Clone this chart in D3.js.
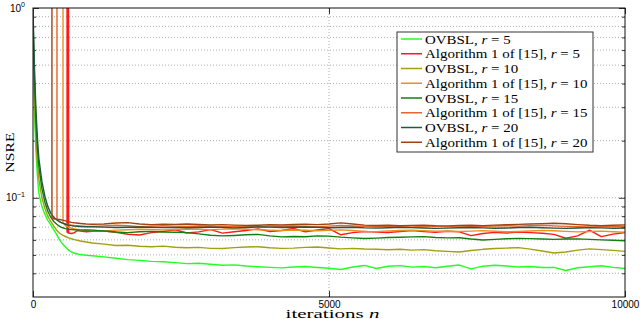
<!DOCTYPE html>
<html>
<head>
<meta charset="utf-8">
<style>
body { margin: 0; background: #fff; }
svg { display: block; }
.axis text { font-family: "Liberation Sans", Arial, sans-serif; font-size: 10px; fill: #000; }
.axis line { stroke: #000; stroke-width: 0.8; }
.axis .domain { display: none; }
.grid line { stroke: #9a9a9a; stroke-width: 0.8; stroke-dasharray: 1,2; }
.serif { font-family: "Liberation Serif", "Times New Roman", serif; fill: #000; }
</style>
</head>
<body>
<svg id="chart" width="640" height="319"></svg>
<script src="https://d3js.org/d3.v7.min.js"></script>
<script>

// legend labels (method, r) and line colours
var methods = ["OVBSL", "Algorithm 1 of [15]", "OVBSL", "Algorithm 1 of [15]",
               "OVBSL", "Algorithm 1 of [15]", "OVBSL", "Algorithm 1 of [15]"];
var ranks = [5, 5, 10, 10, 15, 15, 20, 20];
var colors = ["#22ff22", "#ff1a1a", "#a3a00e", "#eb8f1f",
              "#118011", "#e5652c", "#22593f", "#a3420f"];

// early part (n < 1000) as [n, NSRE]; values of 2 are off the top of the chart
var ovbsl5Head = [[0,1],[10,0.45],[25,0.28],[50,0.175],[75,0.13],[100,0.105],[150,0.090],[200,0.082],[250,0.076],[300,0.072],[350,0.068],[400,0.064],[450,0.060],[500,0.057],[550,0.055],[600,0.053],[650,0.0518],[700,0.0510],[800,0.0502],[900,0.0498]];
var alg5Head = [[575,2],[575,0.066],[588,0.0655],[590,2],[600,2],[602,0.0652],[650,0.0648],[700,0.0655],[750,0.0672],[800,0.0668],[900,0.0662]];
var ovbsl10Head = [[0,1],[10,0.55],[25,0.34],[50,0.20],[75,0.15],[100,0.125],[150,0.100],[200,0.088],[250,0.080],[300,0.075],[350,0.071],[400,0.0675],[450,0.065],[500,0.0635],[550,0.0625],[600,0.0615],[650,0.0608],[700,0.0602],[800,0.0592],[900,0.0585]];
var alg10Head = [[507,2],[507,0.074],[550,0.0712],[600,0.0700],[650,0.0692],[700,0.0686],[800,0.0679],[900,0.0674]];
var ovbsl15Head = [[0,1],[10,0.65],[25,0.42],[50,0.25],[75,0.18],[100,0.145],[150,0.112],[200,0.095],[250,0.085],[300,0.079],[350,0.075],[400,0.0725],[450,0.0707],[500,0.0695],[550,0.0688],[600,0.0683],[650,0.0680],[700,0.0678],[800,0.0675],[900,0.0676]];
var alg15Head = [[405,2],[405,0.077],[450,0.0745],[500,0.0735],[550,0.0728],[600,0.0722],[650,0.0718],[700,0.0714],[800,0.0710],[900,0.0707]];
var ovbsl20Head = [[0,1],[10,0.72],[25,0.48],[50,0.29],[75,0.205],[100,0.16],[150,0.122],[200,0.102],[250,0.090],[300,0.083],[350,0.079],[400,0.0765],[450,0.0748],[500,0.0735],[550,0.0725],[600,0.0718],[650,0.0713],[700,0.0709],[800,0.0705],[900,0.0704]];
var alg20Head = [[320,2],[320,0.079],[350,0.0775],[400,0.0770],[450,0.0768],[500,0.0762],[550,0.0755],[600,0.0748],[650,0.0742],[700,0.0738],[800,0.0732],[900,0.0727]];

// plateau, n = 1000, 1200, ..., 10000
var iters = d3.range(1000, 10001, 200);
var ovbsl5 = [0.0495,0.0488,0.0480,0.0472,0.0468,0.0462,0.0460,0.0455,0.0450,0.0452,0.0446,0.0441,0.0443,0.0437,0.0433,0.0430,0.0427,0.0432,0.0434,0.0429,0.0425,0.0419,0.0432,0.0440,0.0424,0.0436,0.0439,0.0431,0.0434,0.0428,0.0436,0.0442,0.0422,0.0436,0.0441,0.0437,0.0432,0.0434,0.0429,0.0430,0.0414,0.0428,0.0433,0.0438,0.0430,0.0424];
var alg5 = [0.0665,0.0668,0.0658,0.0642,0.0637,0.0655,0.0664,0.0678,0.0652,0.0661,0.0679,0.0651,0.0662,0.0672,0.0686,0.0664,0.0672,0.0689,0.0661,0.0676,0.0688,0.0638,0.0655,0.0664,0.0659,0.0656,0.0664,0.0671,0.0663,0.0657,0.0666,0.0661,0.0632,0.0648,0.0657,0.0652,0.0660,0.0655,0.0650,0.0641,0.0612,0.0630,0.0676,0.0624,0.0643,0.0656];
var ovbsl10 = [0.0578,0.0570,0.0560,0.0562,0.0555,0.0552,0.0556,0.0549,0.0545,0.0548,0.0541,0.0540,0.0546,0.0550,0.0552,0.0545,0.0541,0.0543,0.0548,0.0550,0.0544,0.0538,0.0541,0.0537,0.0535,0.0532,0.0535,0.0530,0.0533,0.0526,0.0522,0.0518,0.0527,0.0535,0.0540,0.0543,0.0546,0.0536,0.0524,0.0512,0.0518,0.0530,0.0538,0.0533,0.0528,0.0522];
var alg10 = [0.0672,0.0668,0.0675,0.0679,0.0683,0.0680,0.0676,0.0681,0.0685,0.0682,0.0678,0.0684,0.0687,0.0683,0.0679,0.0675,0.0672,0.0676,0.0674,0.0670,0.0673,0.0677,0.0672,0.0665,0.0663,0.0668,0.0672,0.0675,0.0671,0.0666,0.0668,0.0664,0.0667,0.0671,0.0666,0.0662,0.0664,0.0668,0.0673,0.0670,0.0665,0.0661,0.0664,0.0667,0.0662,0.0659];
var ovbsl15 = [0.0675,0.0668,0.0660,0.0655,0.0662,0.0665,0.0660,0.0658,0.0655,0.0645,0.0635,0.0630,0.0633,0.0638,0.0641,0.0630,0.0622,0.0625,0.0623,0.0630,0.0628,0.0620,0.0615,0.0610,0.0613,0.0617,0.0619,0.0622,0.0624,0.0618,0.0615,0.0616,0.0606,0.0599,0.0604,0.0608,0.0611,0.0609,0.0606,0.0604,0.0606,0.0607,0.0604,0.0600,0.0597,0.0594];
var alg15 = [0.0707,0.0711,0.0716,0.0712,0.0705,0.0708,0.0712,0.0709,0.0706,0.0710,0.0707,0.0703,0.0706,0.0709,0.0705,0.0702,0.0706,0.0710,0.0708,0.0705,0.0709,0.0714,0.0710,0.0706,0.0703,0.0707,0.0705,0.0702,0.0706,0.0709,0.0705,0.0701,0.0704,0.0707,0.0710,0.0712,0.0709,0.0713,0.0716,0.0711,0.0707,0.0704,0.0701,0.0705,0.0709,0.0706];
var ovbsl20 = [0.0703,0.0700,0.0697,0.0699,0.0702,0.0698,0.0696,0.0698,0.0695,0.0697,0.0700,0.0698,0.0694,0.0697,0.0702,0.0700,0.0697,0.0699,0.0701,0.0698,0.0695,0.0697,0.0699,0.0694,0.0692,0.0695,0.0698,0.0696,0.0693,0.0690,0.0692,0.0695,0.0697,0.0694,0.0691,0.0693,0.0697,0.0699,0.0695,0.0692,0.0690,0.0693,0.0696,0.0694,0.0691,0.0693];
var alg20 = [0.0725,0.0728,0.0736,0.0740,0.0727,0.0722,0.0726,0.0724,0.0727,0.0723,0.0719,0.0722,0.0718,0.0715,0.0717,0.0721,0.0719,0.0723,0.0726,0.0722,0.0728,0.0737,0.0728,0.0718,0.0714,0.0716,0.0712,0.0715,0.0718,0.0713,0.0711,0.0714,0.0716,0.0713,0.0718,0.0721,0.0724,0.0727,0.0731,0.0734,0.0730,0.0722,0.0716,0.0713,0.0716,0.0720];

var heads = [ovbsl5Head, alg5Head, ovbsl10Head, alg10Head, ovbsl15Head, alg15Head, ovbsl20Head, alg20Head];
var tails = [ovbsl5, alg5, ovbsl10, alg10, ovbsl15, alg15, ovbsl20, alg20];

var xTicks = [0, 5000, 10000];
var yMajor = [0.1, 1];
var yMinor = [0.04, 0.05, 0.06, 0.07, 0.08, 0.09, 0.2, 0.3, 0.4, 0.5, 0.6, 0.7, 0.8, 0.9];

var svg = d3.select("#chart"),
    margin = {top: 8, right: 15, bottom: 22, left: 33},
    width = +svg.attr("width") - margin.left - margin.right,
    height = +svg.attr("height") - margin.top - margin.bottom,
    g = svg.append("g").attr("transform", "translate(" + margin.left + "," + margin.top + ")");

var x = d3.scaleLinear().domain([0, 10000]).range([0, width]);
var y = d3.scaleLog().domain([0.03, 1]).range([height, 0]);

svg.append("defs").append("clipPath").attr("id", "plotclip")
  .append("rect").attr("width", width).attr("height", height);

// dotted grid
g.append("g").attr("class", "grid")
  .selectAll("line").data(yMinor.concat([0.1])).enter().append("line")
    .attr("x1", 0).attr("x2", width)
    .attr("y1", function(d) { return y(d); }).attr("y2", function(d) { return y(d); });
g.append("g").attr("class", "grid")
  .selectAll("line").data([5000]).enter().append("line")
    .attr("y1", 0).attr("y2", height)
    .attr("x1", function(d) { return x(d); }).attr("x2", function(d) { return x(d); });

// inward ticks on all four sides
g.append("g").attr("class", "axis").call(d3.axisLeft(y).tickValues(yMinor).tickSize(-3).tickFormat(""));
g.append("g").attr("class", "axis").call(d3.axisLeft(y).tickValues(yMajor).tickSize(-6).tickFormat(""));
g.append("g").attr("class", "axis").attr("transform", "translate(" + width + ",0)")
  .call(d3.axisRight(y).tickValues(yMinor).tickSize(-3).tickFormat(""));
g.append("g").attr("class", "axis").attr("transform", "translate(" + width + ",0)")
  .call(d3.axisRight(y).tickValues(yMajor).tickSize(-6).tickFormat(""));
g.append("g").attr("class", "axis").attr("transform", "translate(0," + height + ")")
  .call(d3.axisBottom(x).tickValues(xTicks).tickSize(-6).tickPadding(4).tickFormat(d3.format("d")));
g.append("g").attr("class", "axis")
  .call(d3.axisTop(x).tickValues(xTicks).tickSize(-6).tickFormat(""));

// 10^k labels
var ylab = g.append("g").attr("class", "axis")
  .selectAll("text").data(yMajor).enter().append("text")
    .attr("x", -8)
    .attr("y", function(d) { return y(d) + 3.5; })
    .attr("text-anchor", "end");
ylab.append("tspan").text("10");
ylab.append("tspan").attr("dy", -4.5).style("font-size", "7px")
  .text(function(d) { return Math.round(Math.log10(d)) === 0 ? "0" : "\u22121"; });

// curves
var line = d3.line()
  .x(function(d) { return x(d[0]); })
  .y(function(d) { return y(d[1]); });

var curves = heads.map(function(h, i) {
  return h.concat(iters.map(function(n, j) { return [n, tails[i][j]]; }));
});

g.append("g").attr("clip-path", "url(#plotclip)")
  .selectAll("path").data(curves).enter().append("path")
    .attr("d", line)
    .attr("fill", "none")
    .attr("stroke", function(d, i) { return colors[i]; })
    .attr("stroke-width", 1.4)
    .attr("stroke-linejoin", "round");

// frame
g.append("rect").attr("width", width).attr("height", height)
  .attr("fill", "none").attr("stroke", "#111").attr("stroke-width", 1);

// axis titles (the original figure is stretched sideways, so the text is too)
svg.append("text").attr("class", "serif")
  .attr("transform", "translate(13.5," + (margin.top + height / 2) + ") rotate(-90) scale(1.25,1)")
  .attr("text-anchor", "middle").style("font-size", "12.5px")
  .text("NSRE");

var xt = svg.append("text").attr("class", "serif")
  .attr("transform", "translate(332.5,318) scale(1.75,1)")
  .attr("text-anchor", "middle").style("font-size", "12px");
xt.append("tspan").text("iterations ");
xt.append("tspan").style("font-style", "italic").text("n");

// legend
var legend = svg.append("g").attr("transform", "translate(397,32)");
legend.append("rect").attr("width", 196).attr("height", 120)
  .attr("fill", "#fff").attr("stroke", "#333").attr("stroke-width", 1);

var row = legend.selectAll("g.row").data(methods).enter().append("g")
    .attr("class", "row")
    .attr("transform", function(d, i) { return "translate(0," + (7 + i * 14.75) + ")"; });
row.append("line").attr("x1", 4).attr("x2", 25)
  .attr("stroke", function(d, i) { return colors[i]; }).attr("stroke-width", 1.5);
var lt = row.append("text").attr("class", "serif")
  .attr("transform", "translate(28,0) scale(1.15,1)").attr("dy", "0.35em")
  .style("font-size", "13px");
lt.append("tspan").text(function(d) { return d + ", "; });
lt.append("tspan").style("font-style", "italic").text("r");
lt.append("tspan").text(function(d, i) { return " = " + ranks[i]; });

</script>
</body>
</html>
